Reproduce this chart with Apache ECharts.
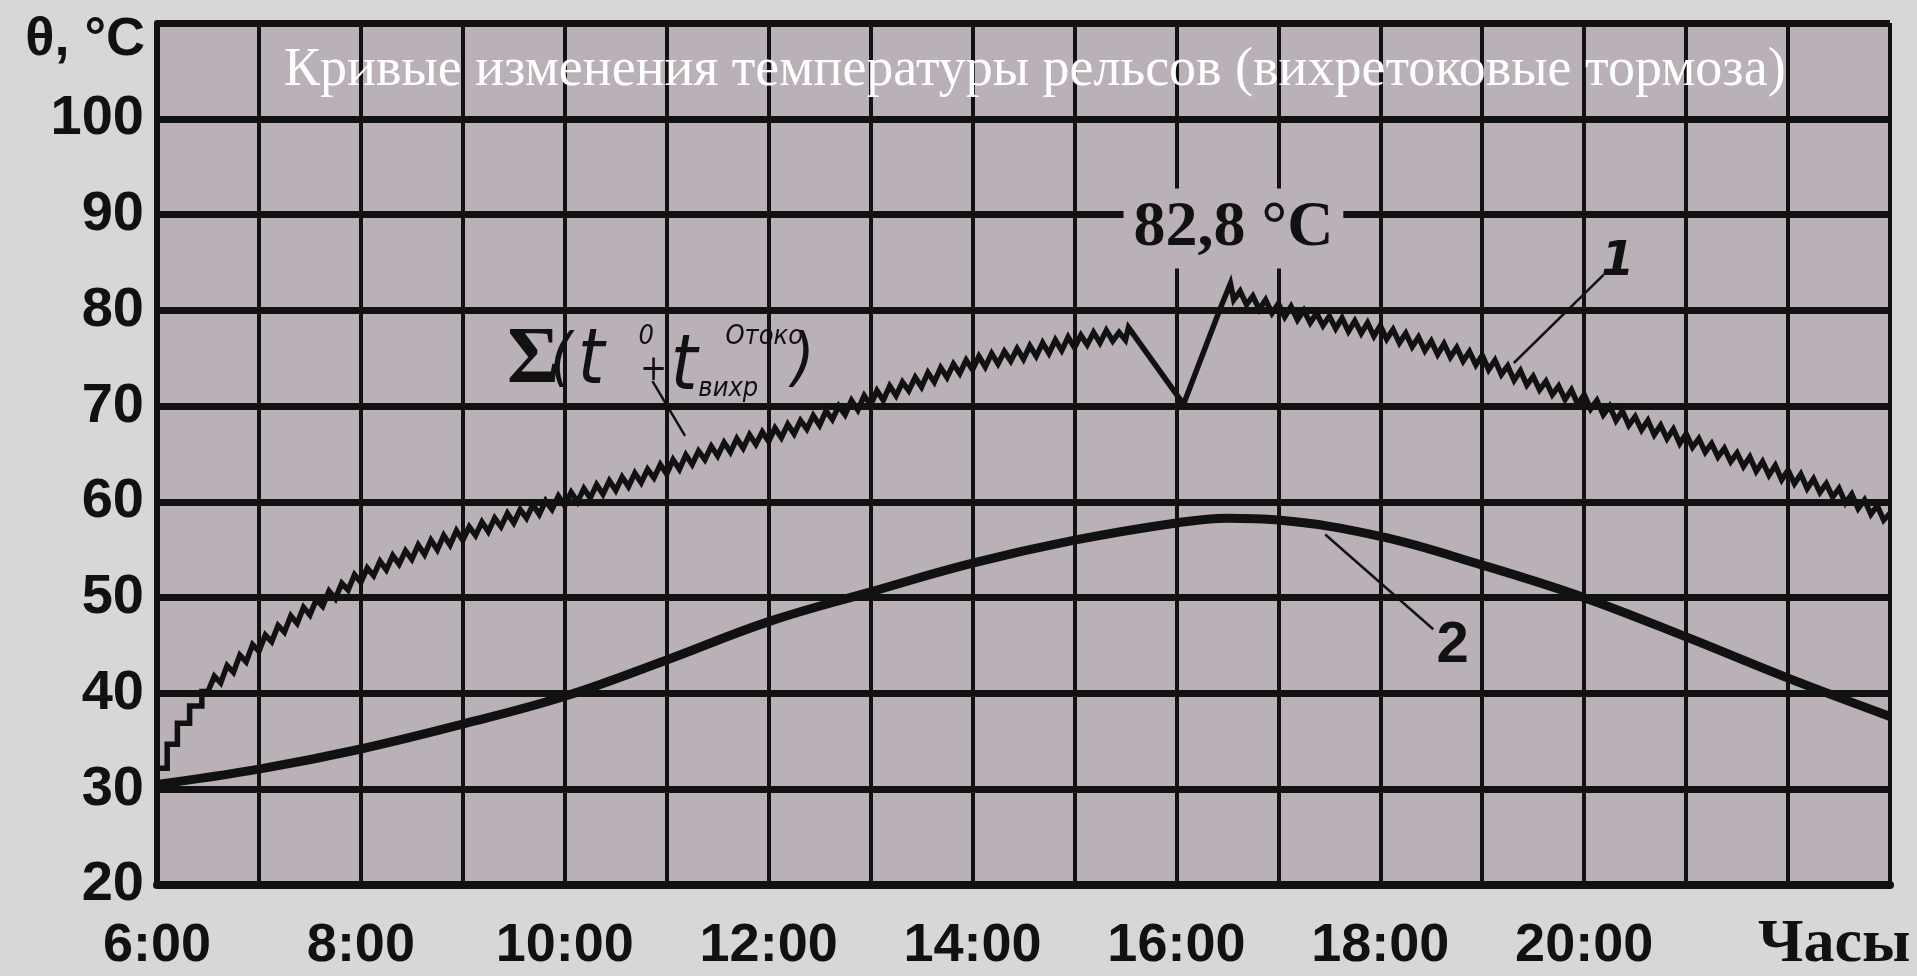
<!DOCTYPE html>
<html>
<head>
<meta charset="utf-8">
<script src="https://cdn.jsdelivr.net/npm/echarts@6/dist/echarts.min.js"></script>
<style>
html,body{margin:0;padding:0;background:#d9d6d8;}
#chart{width:1917px;height:976px;}
</style>
</head>
<body>
<div id="chart"></div>
<script>
// ---------------- DATA ----------------
const TITLE = 'Кривые изменения температуры рельсов (вихретоковые тормоза)';
const X_NAME = 'Часы';
const Y_NAME = 'θ, °C';
const xLabelHours = [6, 8, 10, 12, 14, 16, 18, 20];

// Curve 1 : Σ(t0 + t вихр) — start staircase
const stairTimes = [6.0, 6.1, 6.1, 6.2, 6.2, 6.32, 6.32, 6.44, 6.44, 6.5];
const stairTemps = [32.2, 32.2, 34.7, 34.7, 36.9, 36.9, 38.7, 38.7, 40.2, 40.2];

// Curve 1 — rising zigzag, one reading every 1/16 h from 6.5625 h
const riseStart = 6.5625, riseStep = 0.0625;
const riseTemps = [
  41.8, 41.1, 42.9, 42.2,  44.0, 43.3, 45.1, 44.4,
  46.1, 45.4, 47.1, 46.4,  48.1, 47.3, 49.0, 48.2,
  49.8, 49.1, 50.7, 49.9,  51.5, 50.8, 52.4, 51.6,
  53.1, 52.3, 53.8, 52.9,  54.4, 53.5, 54.9, 54.0,
  55.5, 54.5, 56.0, 55.0,  56.5, 55.5, 57.0, 56.0,
  57.4, 56.5, 57.9, 56.9,  58.3, 57.4, 58.8, 57.8,
  59.2, 58.3, 59.7, 58.7,  60.1, 59.2, 60.6, 59.6,
  61.0, 60.0, 61.4, 60.4,  61.8, 60.8, 62.2, 61.2,
  62.6, 61.6, 63.0, 62.0,  63.4, 62.5, 63.9, 62.9,
  64.4, 63.4, 64.9, 63.9,  65.3, 64.4, 65.8, 64.8,
  66.2, 65.2, 66.6, 65.6,  67.0, 66.0, 67.3, 66.3,
  67.7, 66.7, 68.1, 67.1,  68.5, 67.6, 69.0, 68.0,
  69.5, 68.6, 70.0, 69.1,  70.6, 69.6, 71.1, 70.1,
  71.6, 70.6, 72.1, 71.1,  72.5, 71.6, 73.0, 72.0,
  73.5, 72.5, 74.0, 73.0,  74.4, 73.4, 74.8, 73.8,
  75.2, 74.1, 75.5, 74.4,  75.7, 74.7, 76.0, 74.9,
  76.3, 75.2, 76.6, 75.5,  76.9, 75.8, 77.2, 76.1,
  77.4, 76.4, 77.7, 76.6,  77.9, 76.8, 77.7, 76.9
];

// Curve 1 — dip and peak
const dipTimes = [15.53, 16.07, 16.43, 16.53];
const dipTemps = [78.2, 70.2, 80.2, 82.8];
const peakTime = 16.53, peakTemp = 82.8;

// Curve 1 — falling zigzag, one reading every 1/16 h from 16.5625 h
const fallStart = 16.5625, fallStep = 0.0625;
const fallTemps = [
  81.1, 82.0, 80.6, 81.5,  80.1, 81.1, 79.7, 80.7,
  79.3, 80.4, 79.0, 80.0,  78.7, 79.7, 78.4, 79.4,
  78.1, 79.2, 77.8, 78.9,  77.6, 78.7, 77.3, 78.4,
  77.0, 78.0, 76.6, 77.6,  76.2, 77.2, 75.8, 76.8,
  75.4, 76.5, 75.1, 76.1,  74.7, 75.7, 74.3, 75.3,
  73.8, 74.8, 73.3, 74.2,  72.7, 73.7, 72.2, 73.1,
  71.7, 72.6, 71.2, 72.1,  70.7, 71.7, 70.2, 71.2,
  69.7, 70.6, 69.1, 70.0,  68.5, 69.5, 68.0, 68.9,
  67.5, 68.5, 67.0, 68.0,  66.6, 67.6, 66.1, 67.1,
  65.7, 66.6, 65.2, 66.1,  64.7, 65.6, 64.2, 65.1,
  63.7, 64.7, 63.2, 64.2,  62.8, 63.8, 62.3, 63.3,
  61.9, 62.9, 61.4, 62.4,  61.0, 61.9, 60.5, 61.4,
  59.9, 60.8, 59.3, 60.2,  58.7, 59.6, 58.1, 58.8
];

// Curve 2 : smooth curve
const rail2Times = [6, 7, 8, 9, 10, 11, 12, 13, 14, 15, 16, 16.5, 17, 18, 19, 20, 21, 22, 23];
const rail2Temps = [30.5, 32.1, 34.2, 36.8, 39.7, 43.5, 47.5, 50.6, 53.6, 56.0, 57.8, 58.3, 58.1, 56.4, 53.4, 50.0, 45.9, 41.6, 37.6];

// Annotation texts (formula and curve numbers) and their anchor points in data units
const noteTexts = ['Σ', '(', 't', '0', '+', 't', 'Отоко', 'вихр', ')', '1', '2'];
const noteKinds = ['sigma', 'paren', 't', 'small', 'plus', 't', 'small', 'small', 'paren', 'one', 'two'];
const noteTimes = [9.69, 9.965, 10.259, 10.80, 10.87, 11.172, 11.957, 11.604, 12.34, 20.33, 18.71];
const noteTemps = [74.7, 74.6, 74.5, 77.2, 73.7, 73.8, 77.2, 71.8, 74.6, 85.0, 45.0];

// Leader lines [fromTime, fromTemp, toTime, toTemp]
const leaders = [
  [10.86, 72.6, 11.18, 66.9],
  [20.19, 83.7, 19.31, 74.5],
  [17.46, 56.6, 18.52, 46.7]
];

// ---------------- BUILD ----------------
const INK = '#111111';
const PLOT_BG = '#bab0b8';
const PAGE_BG = '#d9d6d8';

const curve1 = [];
stairTimes.forEach((t, i) => curve1.push([t, stairTemps[i]]));
riseTemps.forEach((v, i) => curve1.push([riseStart + i * riseStep, v]));
dipTimes.forEach((t, i) => curve1.push([t, dipTemps[i]]));
fallTemps.forEach((v, i) => curve1.push([fallStart + i * fallStep, v]));

const curve2 = rail2Times.map((t, i) => [t, rail2Temps[i]]);

const techFont = "'DejaVu Sans Condensed', 'DejaVu Sans', sans-serif";
const kindStyle = {
  sigma: {fontFamily: "'Liberation Serif', serif", fontWeight: 'bold', fontSize: 80},
  paren: {fontFamily: techFont, fontStyle: 'italic', fontWeight: 'normal', fontSize: 64},
  t:     {fontFamily: techFont, fontStyle: 'italic', fontWeight: 'normal', fontSize: 76},
  small: {fontFamily: techFont, fontStyle: 'italic', fontWeight: 'normal', fontSize: 27},
  plus:  {fontFamily: techFont, fontStyle: 'normal', fontWeight: 'normal', fontSize: 36},
  one:   {fontFamily: "'DejaVu Sans', sans-serif", fontStyle: 'italic', fontWeight: 'bold', fontSize: 48},
  two:   {fontFamily: "'Liberation Sans', Arial, sans-serif", fontWeight: 'bold', fontSize: 58}
};

const notePoints = noteTexts.map((txt, i) => ({
  coord: [noteTimes[i], noteTemps[i]],
  symbolSize: 0,
  itemStyle: {color: 'transparent'},
  label: Object.assign({show: true, position: 'inside', formatter: txt, color: INK}, kindStyle[noteKinds[i]])
}));

const peakPoint = {
  coord: [peakTime, peakTemp],
  value: peakTemp,
  symbolSize: 0,
  itemStyle: {color: 'transparent'},
  label: {
    show: true, position: 'inside', offset: [3, -55],
    formatter: p => String(p.value).replace('.', ',') + ' °C',
    fontFamily: "'Liberation Serif', 'DejaVu Serif', serif",
    fontWeight: 'bold', fontSize: 64, color: INK,
    backgroundColor: PLOT_BG, padding: [8, 10]
  }
};

const leaderData = leaders.map(l => [{coord: [l[0], l[1]]}, {coord: [l[2], l[3]]}]);

const chart = echarts.init(document.getElementById('chart'), null, {renderer: 'canvas'});
chart.setOption({
  animation: false,
  backgroundColor: PAGE_BG,
  title: {
    text: TITLE,
    left: 279, top: 39,
    textStyle: {color: '#ffffff', fontFamily: "'Liberation Serif', 'DejaVu Serif', serif", fontWeight: 'normal', fontSize: 54}
  },
  grid: {
    left: 157, right: 27, top: 23, bottom: 86,
    show: true, backgroundColor: PLOT_BG, borderWidth: 0
  },
  xAxis: {
    type: 'value', min: 6, max: 23, interval: 1,
    name: X_NAME, nameLocation: 'end', nameGap: -132,
    nameTextStyle: {
      fontFamily: "'Liberation Serif', 'DejaVu Serif', serif", fontWeight: 'bold', fontSize: 62,
      color: INK, align: 'left', verticalAlign: 'top', padding: [29, 0, 0, 0]
    },
    axisLine: {show: true, onZero: false, lineStyle: {color: INK, width: 8}},
    axisTick: {show: false},
    axisLabel: {
      margin: 34, color: INK, fontFamily: "'Liberation Sans', Arial, sans-serif",
      fontWeight: 'bold', fontSize: 54,
      formatter: v => xLabelHours.indexOf(v) >= 0 ? v + ':00' : ''
    },
    splitLine: {show: true, lineStyle: {color: INK, width: 4}}
  },
  yAxis: {
    type: 'value', min: 20, max: 110, interval: 10,
    name: Y_NAME, nameLocation: 'end', nameGap: -17,
    nameTextStyle: {
      fontFamily: "'Liberation Sans', Arial, sans-serif", fontWeight: 'bold', fontSize: 54,
      color: INK, align: 'right', verticalAlign: 'middle', padding: [0, 12, 0, 0]
    },
    axisLine: {show: true, lineStyle: {color: INK, width: 6}},
    axisTick: {show: false},
    axisLabel: {
      margin: 13, color: INK, fontFamily: "'Liberation Sans', Arial, sans-serif",
      fontWeight: 'bold', fontSize: 56,
      formatter: v => v >= 110 ? '' : String(v)
    },
    splitLine: {show: true, lineStyle: {color: INK, width: 7}}
  },
  series: [
    {
      name: '2', type: 'line', data: curve2, smooth: 0.4, symbol: 'none',
      lineStyle: {color: INK, width: 9}, z: 3
    },
    {
      name: '1', type: 'line', data: curve1, symbol: 'none',
      lineStyle: {color: INK, width: 5.5, join: 'miter'}, z: 4,
      markLine: {
        silent: true, symbol: ['none', 'none'],
        lineStyle: {color: INK, width: 2.5, type: 'solid'},
        label: {show: false},
        data: leaderData
      },
      markPoint: {
        silent: true,
        data: notePoints.concat([peakPoint])
      }
    }
  ]
});
</script>
</body>
</html>
